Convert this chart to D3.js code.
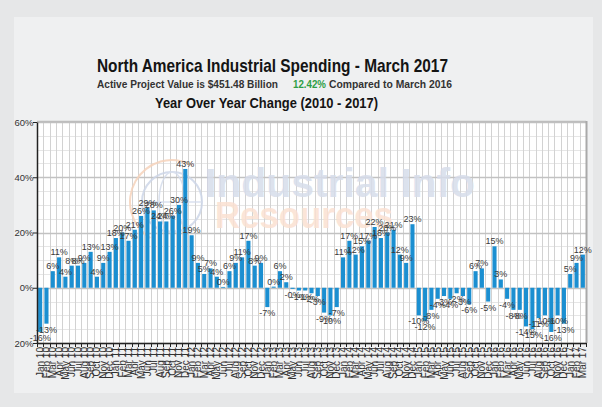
<!DOCTYPE html>
<html>
<head>
<meta charset="utf-8">
<script src="https://cdn.jsdelivr.net/npm/d3@7"></script>
<style>
  body { margin: 0; background: #e6e7e8; }
  svg { display: block; font-family: Arial, "Liberation Sans", sans-serif; }
</style>
</head>
<body>
<svg id="chart" width="602" height="407"></svg>
<script>
// month names and years for the category axis (Jan 10 .. Mar 17)
var months = ["Jan", "Feb", "Mar", "Apr", "May", "Jun", "Jul", "Aug", "Sep", "Oct", "Nov", "Dec"];
var years = ["10", "11", "12", "13", "14", "15", "16", "17"];

// year over year change, %, one value per month
var change2010 = [-16, -13, 6, 11, 4, 8, 8, 9, 13, 4, 9, 13];
var change2011 = [18, 20, 17, 21, 26, 29, 28, 24, 24, 26, 30, 43];
var change2012 = [19, 9, 5, 7, 4, 0.3, 6, 9, 11, 17, 8, 9];
var change2013 = [-7, 0.4, 6, 2, -0.4, -1, -1, -2, -3, -9, -10, -7];
var change2014 = [11, 17, 12, 15, 17, 22, 18, 20, 21, 12, 9, 23];
var change2015 = [-10, -12, -8, -4, -3, -4, -2, -3, -6, 6, 7, -5];
var change2016 = [15, 3, -4, -8, -8, -14, -15, -11, -10, -16, -10, -13];
var change2017 = [5, 9, 12];

var yTicks = [-20, 0, 20, 40, 60];

var values = [].concat(change2010, change2011, change2012, change2013,
  change2014, change2015, change2016, change2017);
var labels = [];
years.forEach(function (yr) {
  months.forEach(function (m) {
    if (labels.length < values.length) labels.push(m + " " + yr);
  });
});
var data = labels.map(function (l, i) { return { label: l, value: values[i] }; });

var font = "Arial, 'Liberation Sans', sans-serif";
var svg = d3.select("#chart");

// light panel
svg.append("rect").attr("x", 14).attr("y", 17).attr("width", 579).attr("height", 376)
  .attr("fill", "#eff0f1");

// titles
function title(txt, x, yb, len, size, color) {
  return svg.append("text").attr("x", x).attr("y", yb)
    .attr("textLength", len).attr("lengthAdjust", "spacingAndGlyphs")
    .attr("font-size", size).attr("font-weight", "bold").attr("fill", color)
    .text(txt);
}
title("North America Industrial Spending - March 2017", 97, 72, 351, 19, "#141414");
title("Active Project Value is $451.48 Billion", 97, 88, 181, 11.5, "#333");
title("12.42%", 293, 88, 33, 11.5, "#2e9e45");
title("Compared to March 2016", 329, 88, 123, 11.5, "#333");
title("Year Over Year Change (2010 - 2017)", 155, 108, 223, 14, "#141414");

var plotL = 37, plotR = 586, plotT = 122, plotB = 343;

var x = d3.scaleBand().domain(labels).range([plotL, plotR])
  .paddingInner(0.35).paddingOuter(0.175);
var y = d3.scaleLinear().domain([-20, 60]).range([plotB, plotT]);
var step = x.step();

// plot background
svg.append("rect").attr("x", plotL).attr("y", plotT)
  .attr("width", plotR - plotL).attr("height", plotB - plotT).attr("fill", "#fff");

// grid
var grid = svg.append("g");
grid.selectAll("line.minor")
  .data(d3.range(-20, 61, 5).filter(function (v) { return v % 20 !== 0; }))
  .enter().append("line")
  .attr("x1", plotL).attr("x2", plotR)
  .attr("y1", function (d) { return Math.round(y(d)) + 0.5; })
  .attr("y2", function (d) { return Math.round(y(d)) + 0.5; })
  .attr("stroke", "#e6e6e6");
grid.selectAll("line.v")
  .data(d3.range(labels.length + 1))
  .enter().append("line")
  .attr("x1", function (i) { return Math.round(plotL + i * step) + 0.5; })
  .attr("x2", function (i) { return Math.round(plotL + i * step) + 0.5; })
  .attr("y1", plotT).attr("y2", plotB)
  .attr("stroke", "#d2d2d2");
grid.selectAll("line.major")
  .data(yTicks)
  .enter().append("line")
  .attr("x1", plotL).attr("x2", plotR)
  .attr("y1", function (d) { return Math.round(y(d)) + 0.5; })
  .attr("y2", function (d) { return Math.round(y(d)) + 0.5; })
  .attr("stroke", "#c2c2c2").attr("stroke-width", 1.5);

// watermark
var wm = svg.append("g").attr("opacity", 0.85);
wm.append("path")
  .attr("transform", "translate(172,202)")
  .attr("d", d3.arc().innerRadius(41).outerRadius(43).startAngle(-2.6).endAngle(0.5)())
  .attr("fill", "#f6d3bb");
wm.append("circle").attr("cx", 172).attr("cy", 202).attr("r", 30)
  .attr("fill", "none").attr("stroke", "#cdd6e8").attr("stroke-width", 2);
wm.append("ellipse").attr("cx", 172).attr("cy", 202).attr("rx", 13).attr("ry", 30)
  .attr("fill", "none").attr("stroke", "#d4dcec").attr("stroke-width", 1.5);
wm.append("line").attr("x1", 142).attr("x2", 202).attr("y1", 202).attr("y2", 202)
  .attr("stroke", "#d4dcec").attr("stroke-width", 1.5);
wm.append("text").attr("x", 205).attr("y", 197).attr("font-size", 40).attr("font-weight", "bold")
  .attr("textLength", 270).attr("lengthAdjust", "spacingAndGlyphs")
  .attr("fill", "#d7ddeb").text("Industrial Info");
wm.append("text").attr("x", 215).attr("y", 228).attr("font-size", 36).attr("font-weight", "bold")
  .attr("textLength", 178).attr("lengthAdjust", "spacingAndGlyphs")
  .attr("fill", "#fbe1d2").text("Resources");

// plot border (top / right)
svg.append("line").attr("x1", plotL).attr("x2", plotR).attr("y1", plotT - 0.5).attr("y2", plotT - 0.5)
  .attr("stroke", "#bdbdbd").attr("stroke-width", 1.5);
svg.append("line").attr("x1", plotR + 0.5).attr("x2", plotR + 0.5).attr("y1", plotT - 1).attr("y2", plotB)
  .attr("stroke", "#a9a9a9").attr("stroke-width", 2);

// bars
svg.append("g").selectAll("rect")
  .data(data).enter().append("rect")
  .attr("x", function (d) { return x(d.label); })
  .attr("width", x.bandwidth())
  .attr("y", function (d) { return y(Math.max(0, d.value)); })
  .attr("height", function (d) { return Math.abs(y(d.value) - y(0)); })
  .attr("fill", "#1b8fd1");

// data labels
svg.append("g").selectAll("text")
  .data(data).enter().append("text")
  .attr("x", function (d) { return x(d.label) + x.bandwidth() / 2; })
  .attr("y", function (d) { return d.value >= 0 ? y(d.value) - 2 : y(d.value) + 9; })
  .attr("text-anchor", "middle").attr("font-size", 9).attr("fill", "#3a3a3a")
  .text(function (d) {
    return (d.value < 0 ? "-" : "") + Math.abs(Math.round(d.value)) + "%";
  });

// clip for y tick labels at the panel edge (in the axis group's coordinates)
svg.append("clipPath").attr("id", "panelClip").append("rect")
  .attr("x", 14 - plotL).attr("y", 0).attr("width", 600).attr("height", 407);

// y axis
var yAxis = svg.append("g").attr("transform", "translate(" + plotL + ",0)")
  .attr("clip-path", "url(#panelClip)")
  .call(d3.axisLeft(y).tickValues(yTicks).tickSize(4).tickPadding(0).tickSizeOuter(0)
    .tickFormat(function (d) { return d + "%"; }));
yAxis.attr("font-family", font);
yAxis.selectAll("text").attr("font-size", 9.5).attr("fill", "#333").attr("x", -3.5);
yAxis.selectAll(".tick line").attr("stroke", "#222");
yAxis.select(".domain").attr("stroke", "#222").attr("stroke-width", 1.5);

// x axis
var xAxis = svg.append("g").attr("transform", "translate(0," + plotB + ")")
  .call(d3.axisBottom(x).tickSize(0).tickSizeOuter(0));
xAxis.attr("font-family", font);
xAxis.select(".domain").attr("stroke", "#222").attr("stroke-width", 1.5);
xAxis.selectAll("text")
  .attr("transform", "rotate(-90)")
  .attr("text-anchor", "end")
  .attr("x", -4).attr("y", 0).attr("dy", "0.35em")
  .attr("font-size", 10).attr("fill", "#333");
xAxis.selectAll("line.bt")
  .data(d3.range(labels.length + 1)).enter().append("line")
  .attr("class", "bt")
  .attr("x1", function (i) { return Math.round(plotL + i * step) + 0.5; })
  .attr("x2", function (i) { return Math.round(plotL + i * step) + 0.5; })
  .attr("y1", 0).attr("y2", 4)
  .attr("stroke", "#222");
</script>
</body>
</html>
